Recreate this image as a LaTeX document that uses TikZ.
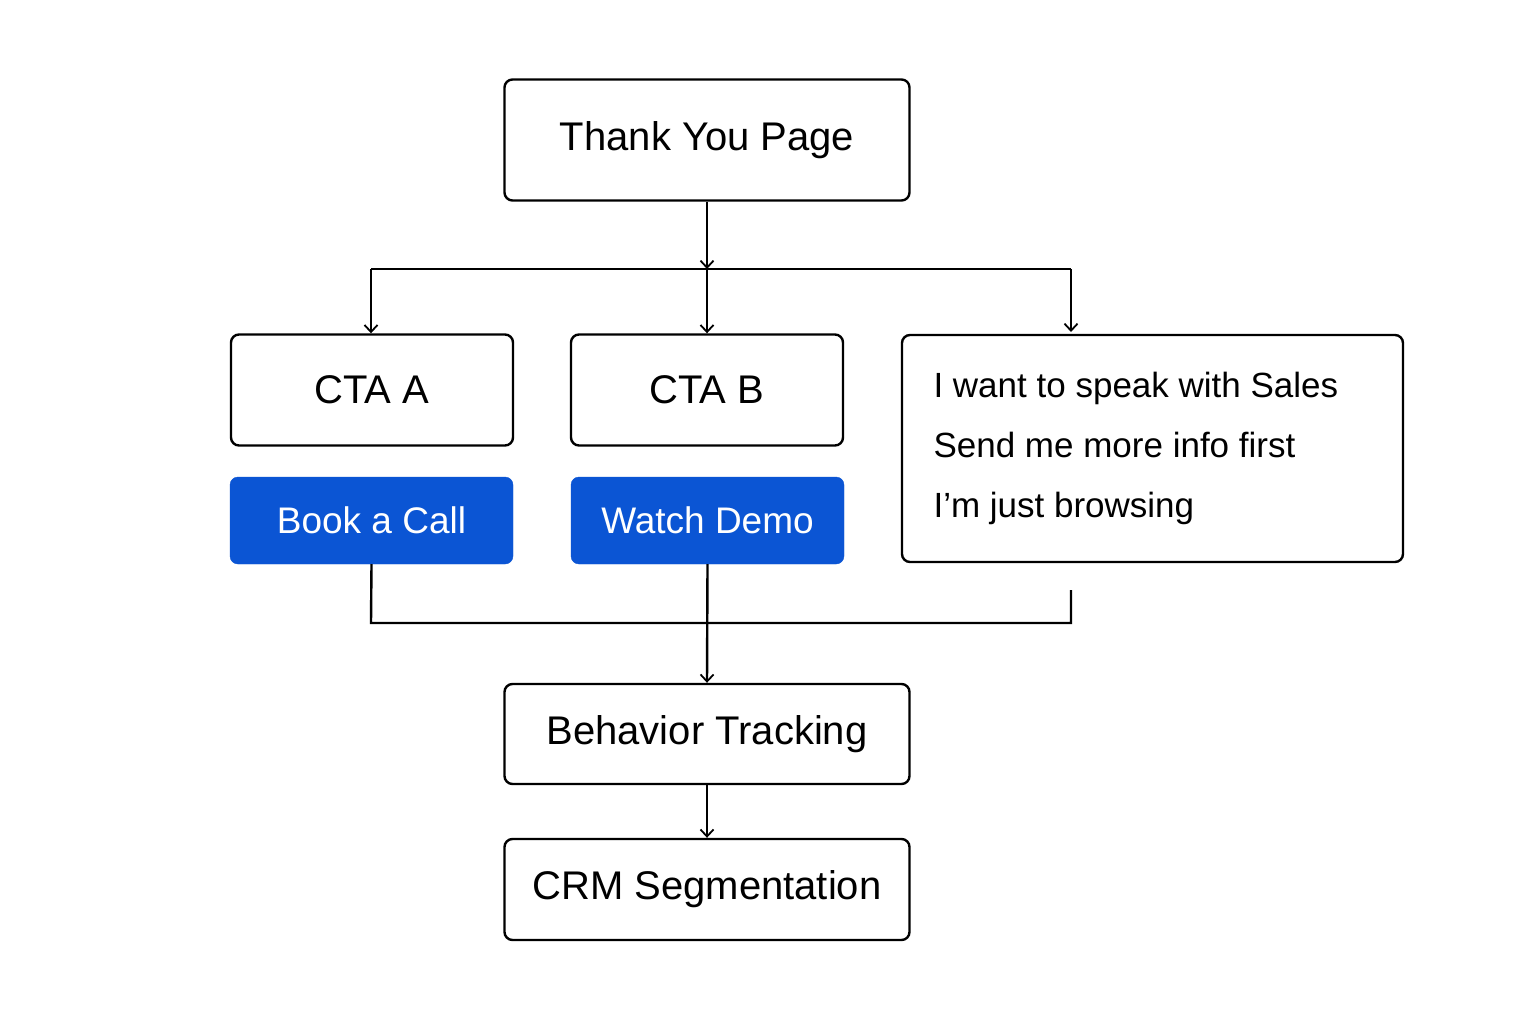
\documentclass[tikz,border=0pt]{standalone}
\usepackage{fontspec}
\setmainfont{Liberation Sans}
\usetikzlibrary{arrows.meta}
\definecolor{btn}{HTML}{0B55D4}
\begin{document}
\begin{tikzpicture}[x=1pt,y=-1pt,
  box/.style={draw=black,line width=2.4pt,rounded corners=8pt,fill=white},
  blue/.style={fill=btn,draw=btn,rounded corners=8pt,text=white},
  ln/.style={line width=2.4pt},
  ar/.style={ln,-{Straight Barb[length=7pt,width=13pt,line width=1.8pt]}}]
\fill[white] (0,0) rectangle (1536,1024);
\useasboundingbox (0,0) rectangle (1536,1024);
\node[box,minimum width=405pt,minimum height=121pt,font=\fontsize{40}{44}\selectfont] (ty) at (707,140) {Thank You Page};
\node[box,minimum width=282pt,minimum height=111pt,font=\fontsize{40}{44}\selectfont] (a) at (372,390) {CTA A};
\node[box,minimum width=272pt,minimum height=111pt,font=\fontsize{40}{44}\selectfont] (b) at (707,390) {CTA B};
\node[box,minimum width=501pt,minimum height=227pt] (s) at (1152.5,448.5) {};
\node[anchor=west,font=\fontsize{35}{60}\selectfont,align=left] (st) at (930,448) {I want to speak with Sales\\Send me more info first\\I’m just browsing};
\node[blue,minimum width=283pt,minimum height=87pt,font=\fontsize{37}{40}\selectfont] (bc) at (371.5,520.5) {Book a Call};
\node[blue,minimum width=273pt,minimum height=87pt,font=\fontsize{37}{40}\selectfont] (wd) at (707.5,520.5) {Watch Demo};
\node[box,minimum width=405pt,minimum height=100pt,font=\fontsize{40}{44}\selectfont] (bt) at (707,734) {Behavior Tracking};
\node[box,minimum width=405pt,minimum height=101pt,font=\fontsize{40}{44}\selectfont] (crm) at (707,889.5) {CRM Segmentation};
\coordinate (j) at (707,269);
\coordinate (sfree) at (1071,590);
\draw[ar] (ty.south) -- (j);
\draw[ln] (371,269) -- (1071,269);
\draw[ar] (371,269) -- (a.north -| 371,0);
\draw[ar] (j) -- (b.north);
\draw[ar] (1071,269) -- (1071,332);
\draw[ln] (bc.south) -- (371,623) -- (1071,623) -- (sfree);
\draw[ar] (wd.south) -- (bt.north);
\draw[ar] (bt.south) -- (crm.north);
\end{tikzpicture}
\end{document}
